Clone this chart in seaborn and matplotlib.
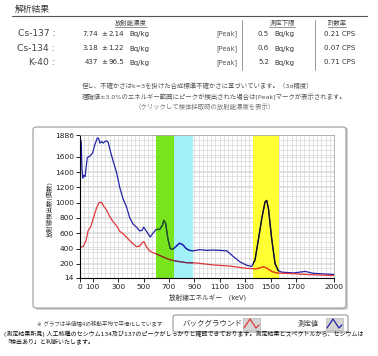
import matplotlib
matplotlib.use("Agg")
import matplotlib.pyplot as plt
from matplotlib.patches import FancyBboxPatch, Rectangle
import numpy as np
import pandas as pd
import seaborn as sns

# ---------------- data ----------------
meas_energy = [0, 5, 10, 15, 22, 30, 40, 57, 78, 99, 117, 136, 146, 157, 170, 183, 196, 209,
               222, 235, 260, 287, 313, 339, 365, 392, 418, 444, 470, 490, 501, 522, 553, 574,
               600, 627, 648, 661, 674, 692, 710, 731, 752, 783, 809, 836, 862, 892, 945, 997,
               1050, 1102, 1155, 1181, 1207, 1260, 1313, 1352, 1378, 1405, 1431, 1457, 1470,
               1484, 1510, 1536, 1562, 1589, 1681, 1773, 1839, 2000]
meas_count = [1700, 1820, 1780, 1450, 1320, 1360, 1340, 1590, 1610, 1650, 1760, 1845, 1845, 1780,
              1800, 1780, 1800, 1810, 1790, 1700, 1550, 1400, 1200, 1050, 950, 800, 720, 680, 630,
              640, 680, 630, 550, 600, 650, 650, 700, 770, 730, 530, 400, 390, 420, 470, 450, 400,
              375, 370, 385, 375, 380, 375, 370, 335, 295, 225, 180, 165, 250, 520, 790, 1010,
              1030, 920, 520, 200, 110, 90, 80, 100, 75, 60]

bg_energy = [0, 26, 47, 65, 83, 104, 130, 149, 170, 188, 209, 235, 261, 287, 313, 339, 365, 405,
             444, 470, 491, 504, 522, 548, 574, 600, 653, 705, 757, 836, 918, 1050, 1181, 1313,
             1391, 1444, 1470, 1510, 1549, 1681, 1786, 2000]
bg_count = [410, 430, 500, 640, 680, 790, 930, 1000, 1005, 950, 905, 815, 750, 700, 625, 595, 550,
            480, 425, 430, 480, 490, 425, 370, 345, 330, 290, 255, 235, 215, 210, 185, 170, 140,
            135, 160, 145, 100, 80, 70, 60, 45]

# energy windows (keV): Cs-134, Cs-137, K-40
windows = [(598, 740, '#78e41e'), (740, 887, '#a2f1f9'), (1360, 1567, '#ffff33')]
# line colours inside each window (measured, background)
window_line_colors = [('#1f5a12', '#7a3a14'), ('#2020b0', '#5a3060'), ('#111111', '#e4500a')]

x_ticks = [0, 100, 300, 500, 700, 900, 1100, 1300, 1500, 1700, 2000]
y_ticks = [14, 200, 400, 600, 800, 1000, 1200, 1400, 1600, 1886]

nuclides = ['Cs-137 :', 'Cs-134 :', 'K-40 :']
conc = ['7.74', '3.18', '437']
unc = ['2.14', '1.22', '96.5']
lower_limit = ['0.5', '0.6', '5.2']
cps = ['0.21', '0.07', '0.71']

# ---------------- figure ----------------
W, H = 378, 356
sns.set_theme(style="white")
plt.rcParams['font.family'] = ['DejaVu Sans', 'Noto Sans CJK JP']
fig = plt.figure(figsize=(W / 100, H / 100), dpi=100)
fig.patch.set_facecolor('white')


def fx(x):
    return x / W


def fy(y):
    return 1 - y / H


def txt(x, y, s, size=5, ha='left', color='#333333', **kw):
    fig.text(fx(x), fy(y), s, fontsize=size, ha=ha, va='center', color=color, **kw)


# header / table
txt(15, 9, '解析結果', size=6.3, color='#333333')
fig.add_artist(plt.Line2D([fx(12), fx(367)], [fy(16), fy(16)], color='#555555', lw=0.8))
for x, s in [(131, '放射能濃度'), (282, '測定下限'), (337, '計数率')]:
    txt(x, 23, s, size=4.6, ha='center', color='#444444')
    w = len(s) * 6.3
    fig.add_artist(plt.Line2D([fx(x - w / 2), fx(x + w / 2)], [fy(27), fy(27)],
                              color='#666666', lw=0.5))
for sx in [242, 315]:
    fig.add_artist(plt.Line2D([fx(sx), fx(sx)], [fy(20), fy(70)], color='#888888', lw=0.6))

row_y = [34, 48.5, 62.5]
for i, yy in enumerate(row_y):
    txt(55, yy, nuclides[i], size=6.6, ha='right', color='#444444')
    txt(98, yy, conc[i], size=5.0, ha='right')
    txt(104.5, yy, '±', size=5.0, ha='center')
    txt(124, yy, unc[i], size=5.0, ha='right')
    txt(129, yy, 'Bq/kg', size=5.0)
    txt(227, yy, '[Peak]', size=4.8, ha='center', color='#555555')
    txt(269, yy, lower_limit[i], size=5.0, ha='right')
    txt(274, yy, 'Bq/kg', size=5.0)
    txt(340, yy, cps[i] + ' CPS', size=5.0, ha='center')

txt(82, 86, '但し、不確かさはk=3を掛けた合成標準不確かさに基づいています。（3σ精度）',
    size=4.6, color='#555555')
txt(82, 97, '理論値±3.0%のエネルギー範囲にピークが検出された場合は[Peak]マークが表示されます。',
    size=4.6, color='#555555')
txt(205, 107, '（クリックして検体採取時の放射能濃度を表示）', size=4.6, ha='center', color='#777777')

# graph frame with shadow
fig.add_artist(FancyBboxPatch((fx(35), fy(310)), fx(348 - 35), (310 - 127) / H,
                              boxstyle='round,pad=0,rounding_size=0.008',
                              transform=fig.transFigure, facecolor='#cfcfcf',
                              edgecolor='none', zorder=0))
fig.add_artist(FancyBboxPatch((fx(33), fy(308)), fx(346 - 33), (308 - 127) / H,
                              boxstyle='round,pad=0,rounding_size=0.008',
                              transform=fig.transFigure, facecolor='white',
                              edgecolor='#9a9a9a', lw=0.8, zorder=0.1))

ax = fig.add_axes([fx(80), fy(278), fx(334 - 80), (278 - 135) / H])
ax.set_zorder(1)
ax.set_facecolor('white')

spans = []
for lo, hi, c in windows:
    spans.append(ax.axvspan(lo, hi, color=c, lw=0, zorder=1))

df = pd.concat([
    pd.DataFrame({'energy': meas_energy, 'count': meas_count, 'series': '測定値'}),
    pd.DataFrame({'energy': bg_energy, 'count': bg_count, 'series': 'バックグラウンド'}),
])
sns.lineplot(data=df, x='energy', y='count', hue='series', sort=False, estimator=None,
             palette={'測定値': '#2424aa', 'バックグラウンド': '#e03838'},
             lw=0.9, legend=False, ax=ax, zorder=2)

for span, (cm, cb) in zip(spans, window_line_colors):
    for e, c, col in [(meas_energy, meas_count, cm), (bg_energy, bg_count, cb)]:
        ln, = ax.plot(e, c, color=col, lw=0.9, zorder=2.2)
        ln.set_clip_path(span)

ax.set_xlim(0, 2000)
ax.set_ylim(14, 1886)
ax.set_xticks(x_ticks)
ax.set_yticks(y_ticks)
ax.set_xticks(np.linspace(0, 2000, 61), minor=True)
ax.set_yticks(np.linspace(14, 1886, 29), minor=True)
ax.grid(which='both', color='#d6d6d6', lw=0.5)
ax.tick_params(which='major', labelsize=5.4, length=3, width=0.6, color='black',
               pad=1.5, labelcolor='#222222', bottom=True, left=True)
ax.tick_params(which='minor', length=0)
ax.set_xlabel('')
ax.set_ylabel('')
for side in ['left', 'bottom']:
    ax.spines[side].set_color('black')
    ax.spines[side].set_linewidth(0.8)
for side in ['top', 'right']:
    ax.spines[side].set_color('#a8a8a8')
    ax.spines[side].set_linewidth(0.6)

fig.text(fx(50), fy(209), '放射線検出数(個数)', rotation=90, fontsize=4.6,
         ha='center', va='center', color='#333333')
txt(208, 297, '放射線エネルギー　(keV)', size=4.8, ha='center')

# legend strip
txt(37, 323, '※ グラフは半値幅4の移動平均で平滑化しています', size=4.0, color='#444444')
fig.add_artist(FancyBboxPatch((fx(173), fy(332)), fx(348 - 173), (332 - 315) / H,
                              boxstyle='round,pad=0,rounding_size=0.006',
                              transform=fig.transFigure, facecolor='white',
                              edgecolor='#888888', lw=0.7))
txt(183, 323.5, 'バックグラウンド', size=5.4, color='#333333')
txt(298, 323.5, '測定値', size=5.0, color='#333333')
for x0, col in [(243, '#e03838'), (326, '#2424aa')]:
    fig.add_artist(Rectangle((fx(x0), fy(330)), fx(17), 12 / H, transform=fig.transFigure,
                             facecolor='#d4d4d4', edgecolor='#aaaaaa', lw=0.4))
    zx = [x0 + 1, x0 + 7, x0 + 13, x0 + 16]
    zy = [328, 319, 328, 325]
    fig.add_artist(plt.Line2D([fx(v) for v in zx], [fy(v) for v in zy], color=col, lw=0.9))

# footer comment
txt(4, 334, '(測定結果所見) 人工核種のセシウム134及び137のピークがしっかりと確認できております。'
    '測定結果とスペクトルから、セシウムは', size=4.3, color='#111111')
txt(4, 341, '「検出あり」と判断いたします。', size=4.3, color='#111111')

fig.savefig('out.png', dpi=100)
